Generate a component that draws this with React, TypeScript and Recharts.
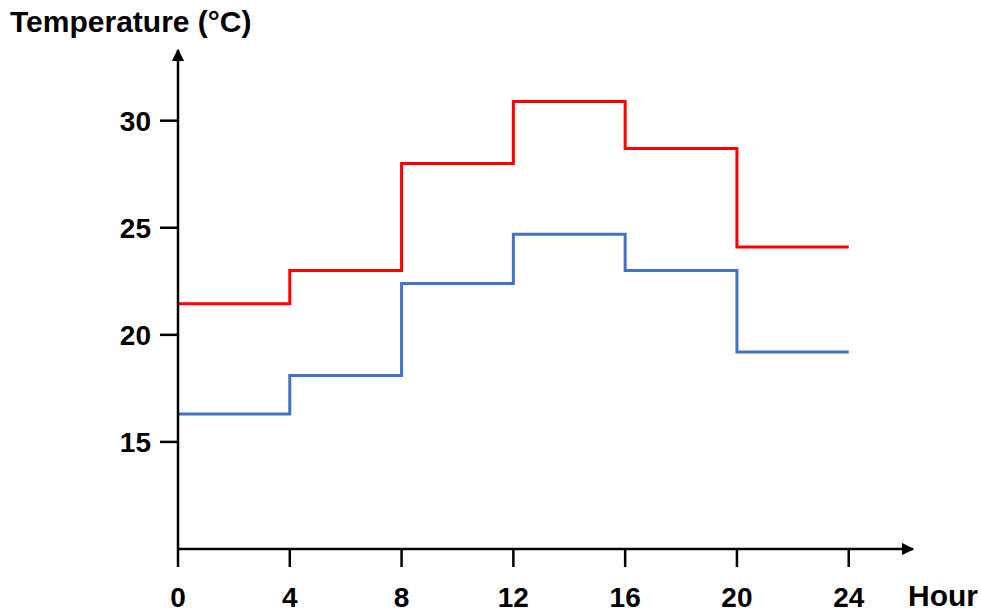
import React from 'react'
import { LineChart, Line, XAxis, YAxis } from 'recharts'

const hours = [0, 4, 8, 12, 16, 20, 24]
const highTemps = [21.45, 23, 28, 30.9, 28.7, 24.1, 24.1]
const lowTemps = [16.3, 18.1, 22.4, 24.7, 23, 19.2, 19.2]
const xTicks = [0, 4, 8, 12, 16, 20, 24]
const yTicks = [15, 20, 25, 30]

const data = hours.map((h, i) => ({ hour: h, high: highTemps[i], low: lowTemps[i] }))

const font = 'Liberation Sans, Arial, sans-serif'
const tickStyle = { fontSize: 28, fontWeight: 700, fill: '#000', fontFamily: font }

export default function App() {
  return (
    <div style={{ position: 'absolute', left: 0, top: 0, width: 981, height: 615, background: '#fff' }}>
      <LineChart width={981} height={615} data={data} margin={{ top: 50, right: 68, bottom: 6, left: 118 }}>
        <defs>
          <marker id="arrow" viewBox="0 0 10 10" refX="9" refY="5" markerWidth="5" markerHeight="5" orient="auto-start-reverse">
            <path d="M0,0 L10,5 L0,10 z" fill="#000" />
          </marker>
        </defs>
        <XAxis
          dataKey="hour"
          type="number"
          domain={[0, 26.3]}
          ticks={xTicks}
          height={60}
          tickSize={18}
          tickMargin={20}
          tick={tickStyle}
          axisLine={{ stroke: '#000', strokeWidth: 2.5, markerEnd: 'url(#arrow)' }}
          tickLine={{ stroke: '#000', strokeWidth: 2.5 }}
          allowDataOverflow
        />
        <YAxis
          type="number"
          domain={[10, 33.3]}
          ticks={yTicks}
          width={60}
          tickSize={18}
          tickMargin={9}
          tick={tickStyle}
          axisLine={{ stroke: '#000', strokeWidth: 2.5, markerStart: 'url(#arrow)' }}
          tickLine={{ stroke: '#000', strokeWidth: 2.5 }}
          allowDataOverflow
        />
        <Line type="stepAfter" dataKey="high" stroke="#ff0000" strokeWidth={3} dot={false} isAnimationActive={false} />
        <Line type="stepAfter" dataKey="low" stroke="#4472c4" strokeWidth={3} dot={false} isAnimationActive={false} />
      </LineChart>
      <div style={{ position: 'absolute', left: 10, top: 5, fontFamily: font, fontWeight: 700, fontSize: 30, lineHeight: '34px', color: '#000' }}>
        Temperature (°C)
      </div>
      <div style={{ position: 'absolute', left: 908, top: 579, fontFamily: font, fontWeight: 700, fontSize: 30, lineHeight: '34px', color: '#000' }}>
        Hour
      </div>
    </div>
  )
}
